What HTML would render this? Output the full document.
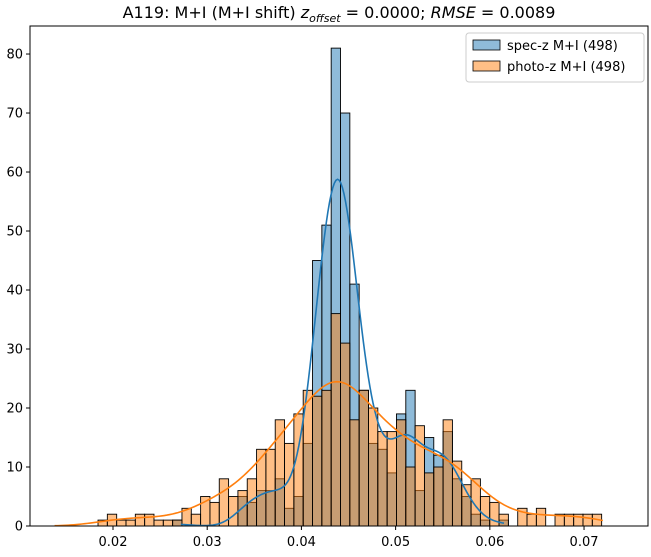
<!DOCTYPE html>
<html><head><meta charset="utf-8">
<style>
body{margin:0;background:#fff;}
svg text{font-family:"DejaVu Sans","Liberation Sans",sans-serif;}
</style></head>
<body>
<svg id="chart" width="651" height="552" xmlns="http://www.w3.org/2000/svg">
<text x="339" y="18" text-anchor="middle" font-size="16">A119: M+I (M+I shift) <tspan font-style="italic">z</tspan><tspan font-style="italic" font-size="11" dy="4">offset</tspan><tspan dy="-4"> = 0.0000; </tspan><tspan font-style="italic">RMSE</tspan> = 0.0089</text>
<g id="bars"></g>
<g id="kde"></g>
<rect x="30" y="26" width="618" height="500" fill="none" stroke="#000" stroke-width="1"/>
<g id="ticks"></g>
<g>
<rect x="466" y="33" width="178" height="49" rx="3" fill="#fff" fill-opacity="0.8" stroke="#ccc"/>
<rect x="473" y="40" width="27" height="10" fill="#1f77b4" fill-opacity="0.5" stroke="#000" stroke-width="0.8"/>
<text x="507" y="50" font-size="13">spec-z M+I (498)</text>
<rect x="473" y="61" width="27" height="10" fill="#ff7f0e" fill-opacity="0.5" stroke="#000" stroke-width="0.8"/>
<text x="507" y="71" font-size="13">photo-z M+I (498)</text>
</g>
</svg>
<script>
const binStart = 0.01841;
const binWidth = 0.00099;
const specCounts = [0,0,0,0,0,0,0,0,1,0,0,0,0,0,0,5,4,6,6,8,3,5,14,45,51,81,70,41,23,14,13,9,19,23,6,15,12,16,8,5,2,1,0,1,0,0,0,0,0,0,0,0,0,0];
const photoCounts = [1,2,1,1,2,2,1,1,1,3,2,5,4,8,5,6,8,13,13,18,14,19,23,22,23,36,31,18,23,20,16,16,18,10,17,9,10,18,11,7,8,5,4,2,0,3,2,3,0,2,2,2,2,2];
const specKdeRange = [0.0272, 0.0615];
const photoKdeRange = [0.0138, 0.0720];
const xTicks = [0.02,0.03,0.04,0.05,0.06,0.07];
const xTickLabels = ["0.02","0.03","0.04","0.05","0.06","0.07"];
const yTicks = [0,10,20,30,40,50,60,70,80];

const X0=30,X1=648,Y0=526,Y1=26;
const xMin=0.01119,xMax=0.07679,yMin=0,yMax=84.75;
const sx=v=>X0+(v-xMin)/(xMax-xMin)*(X1-X0);
const sy=v=>Y0-(v-yMin)/(yMax-yMin)*(Y0-Y1);
const NS="http://www.w3.org/2000/svg";
function mk(tag,attrs,parent){const e=document.createElementNS(NS,tag);for(const k in attrs)e.setAttribute(k,attrs[k]);parent.appendChild(e);return e;}

const bars=document.getElementById('bars');
function drawBars(counts,color,name){
  counts.forEach((c,i)=>{
    if(c<=0)return;
    const a=binStart+i*binWidth,b=a+binWidth;
    const r=mk('rect',{x:sx(a),y:sy(c),width:sx(b)-sx(a),height:sy(0)-sy(c),fill:color,'fill-opacity':0.5,stroke:'#000','stroke-width':0.9},bars);
    
    
  });
}
drawBars(specCounts,'#1f77b4','spec-z');
drawBars(photoCounts,'#ff7f0e','photo-z');

const kde=document.getElementById('kde');
function drawKde(counts,range,color,name){
  let n=0,m=0;counts.forEach((c,i)=>{const x=binStart+(i+0.5)*binWidth;n+=c;m+=c*x;});m/=n;
  let v=0;counts.forEach((c,i)=>{const x=binStart+(i+0.5)*binWidth;v+=c*(x-m)*(x-m);});v/=n;
  const bw=Math.sqrt(v)*Math.pow(n,-0.2);
  let d='';
  for(let k=0;k<=200;k++){
    const x=range[0]+(range[1]-range[0])*k/200;
    let s=0;counts.forEach((c,i)=>{const xc=binStart+(i+0.5)*binWidth;const z=(x-xc)/bw;s+=c*Math.exp(-0.5*z*z);});
    const dens=s/(n*bw*Math.sqrt(2*Math.PI));
    const y=dens*n*binWidth;
    d+=(k?'L':'M')+sx(x).toFixed(2)+','+sy(y).toFixed(2);
  }
  const p=mk('path',{d:d,fill:'none',stroke:color,'stroke-width':1.6},kde);
  
  
}
drawKde(specCounts,specKdeRange,'#1f77b4','spec-z');
drawKde(photoCounts,photoKdeRange,'#ff7f0e','photo-z');

const ticks=document.getElementById('ticks');
xTicks.forEach((t,i)=>{
  const x=sx(t);
  const l=mk('line',{x1:x,x2:x,y1:Y0,y2:Y0+4,stroke:'#000'},ticks);
  
  
  const tx=mk('text',{x:x,y:Y0+20,'text-anchor':'middle','font-size':13},ticks);
  tx.textContent=xTickLabels[i];
  
  
});
yTicks.forEach((t,i)=>{
  const y=sy(t);
  const l=mk('line',{x1:X0-4,x2:X0,y1:y,y2:y,stroke:'#000'},ticks);
  
  
  const tx=mk('text',{x:X0-7,y:y+4.5,'text-anchor':'end','font-size':13},ticks);
  tx.textContent=String(t);
  
  
});
</script>
</body></html>
